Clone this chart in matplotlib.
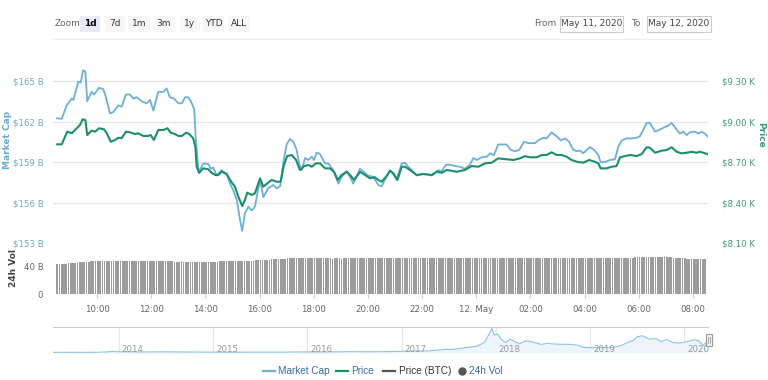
import matplotlib
matplotlib.use("Agg")
import matplotlib.pyplot as plt
from matplotlib.patches import Rectangle
from matplotlib.lines import Line2D
from matplotlib import font_manager

# ---------------- data ----------------
# hours after 00:00 on 11 May 2020 (24 = 00:00 on 12 May)
mc_time = [8.53, 8.70, 8.88, 9.07, 9.13, 9.31, 9.40, 9.49, 9.57, 9.64, 9.80, 9.89, 10.08, 10.23,
           10.33, 10.48, 10.60, 10.79, 10.91, 11.07, 11.22, 11.34, 11.47, 11.65, 11.83, 11.96,
           12.08, 12.26, 12.45, 12.57, 12.69, 12.84, 13.00, 13.13, 13.25, 13.37, 13.50, 13.59,
           13.65, 13.74, 13.80, 13.92, 14.11, 14.20, 14.29, 14.42, 14.60, 14.79, 14.91, 15.03,
           15.16, 15.28, 15.36, 15.46, 15.59, 15.71, 15.83, 16.02, 16.14, 16.32, 16.51, 16.63,
           16.76, 16.88, 17.00, 17.12, 17.25, 17.37, 17.47, 17.56, 17.68, 17.80, 17.93, 18.01,
           18.11, 18.23, 18.42, 18.54, 18.72, 18.91, 19.03, 19.22, 19.34, 19.46, 19.71, 19.83,
           20.01, 20.20, 20.38, 20.51, 20.63, 20.82, 20.94, 21.06, 21.25, 21.37, 21.49, 21.62,
           21.80, 21.99, 22.17, 22.36, 22.48, 22.60, 22.72, 22.88, 23.03, 23.22, 23.40, 23.58,
           23.77, 23.89, 24.02, 24.20, 24.39, 24.51, 24.65, 24.81, 25.00, 25.12, 25.27, 25.43,
           25.59, 25.76, 25.92, 26.05, 26.17, 26.29, 26.47, 26.60, 26.78, 26.97, 27.12, 27.28,
           27.43, 27.58, 27.71, 27.83, 27.95, 28.08, 28.20, 28.35, 28.51, 28.59, 28.75, 28.94,
           29.12, 29.24, 29.37, 29.55, 29.74, 29.92, 30.04, 30.17, 30.29, 30.41, 30.60, 30.78,
           30.97, 31.09, 31.21, 31.40, 31.52, 31.64, 31.77, 31.89, 32.08, 32.20, 32.32, 32.44,
           32.54]
market_cap = [162.24, 162.2, 163.2, 163.7, 163.6, 164.95, 164.9, 165.8, 165.7, 163.5, 164.2, 164.0,
              164.5, 164.4, 163.8, 162.6, 162.7, 163.2, 163.1, 164.0, 164.0, 163.7, 163.8, 163.5,
              163.35, 163.6, 162.8, 164.2, 164.2, 164.45, 163.8, 163.7, 163.35, 163.35, 163.8,
              163.8, 163.35, 162.9, 160.6, 158.5, 158.4, 158.9, 158.85, 158.5, 158.6, 158.0, 158.4,
              158.1, 157.4, 156.9, 156.2, 154.7, 153.9, 155.2, 155.7, 155.4, 155.7, 157.7, 156.4,
              157.05, 157.3, 157.05, 157.2, 159.0, 160.3, 160.7, 160.5, 159.9, 158.8, 158.4, 159.3,
              159.15, 159.4, 159.15, 159.7, 159.6, 158.9, 158.9, 158.4, 157.4, 157.9, 158.3, 157.9,
              157.4, 158.5, 158.3, 158.0, 157.9, 157.3, 157.2, 157.7, 158.35, 158.1, 157.7, 158.9,
              158.95, 158.65, 158.4, 158.0, 158.1, 158.1, 158.0, 158.2, 158.4, 158.3, 158.8, 158.8,
              158.7, 158.65, 158.5, 158.8, 159.3, 159.15, 159.35, 159.4, 159.65, 159.5, 160.3,
              160.3, 160.3, 159.9, 159.8, 159.9, 160.5, 160.4, 160.4, 160.4, 160.6, 160.8, 160.75,
              161.2, 160.9, 160.6, 160.75, 160.5, 159.9, 159.8, 159.85, 159.65, 159.9, 160.1,
              159.9, 159.5, 159.0, 159.0, 159.15, 159.2, 160.1, 160.6, 160.75, 160.75, 160.8,
              160.9, 161.4, 161.9, 161.9, 161.25, 161.4, 161.6, 161.7, 161.9, 161.4, 161.1,
              161.25, 161.0, 161.2, 161.25, 161.1, 161.25, 161.1, 160.9]

price_time = [8.53, 8.70, 8.90, 9.07, 9.25, 9.37, 9.47, 9.57, 9.64, 9.80, 9.93, 10.08, 10.26,
              10.36, 10.51, 10.66, 10.79, 10.91, 11.07, 11.22, 11.40, 11.52, 11.71, 11.89, 11.98,
              12.10, 12.26, 12.45, 12.60, 12.72, 12.88, 13.00, 13.13, 13.29, 13.41, 13.55, 13.63,
              13.68, 13.77, 13.92, 14.11, 14.23, 14.36, 14.48, 14.60, 14.79, 14.91, 15.09, 15.22,
              15.36, 15.46, 15.55, 15.71, 15.83, 16.02, 16.14, 16.32, 16.45, 16.63, 16.78, 16.90,
              17.02, 17.19, 17.35, 17.49, 17.65, 17.80, 17.93, 18.08, 18.23, 18.42, 18.60, 18.75,
              18.89, 19.03, 19.22, 19.34, 19.49, 19.71, 19.89, 20.08, 20.26, 20.38, 20.51, 20.67,
              20.82, 20.94, 21.09, 21.25, 21.37, 21.55, 21.80, 22.04, 22.36, 22.54, 22.72, 22.91,
              23.28, 23.58, 23.83, 24.08, 24.32, 24.57, 24.81, 25.12, 25.37, 25.61, 25.80, 25.98,
              26.23, 26.42, 26.60, 26.78, 26.97, 27.15, 27.34, 27.52, 27.71, 27.95, 28.17, 28.38,
              28.51, 28.59, 28.81, 29.00, 29.18, 29.31, 29.49, 29.68, 29.92, 30.11, 30.29, 30.41,
              30.60, 30.85, 31.03, 31.21, 31.40, 31.58, 31.77, 31.95, 32.13, 32.26, 32.38, 32.54]
price_k = [8.831, 8.831, 8.925, 8.913, 8.95, 8.974, 9.016, 9.011, 8.90, 8.932, 8.925, 8.95, 8.942,
           8.913, 8.85, 8.863, 8.88, 8.876, 8.925, 8.92, 8.907, 8.913, 8.893, 8.893, 8.90, 8.863,
           8.937, 8.937, 8.95, 8.917, 8.907, 8.893, 8.893, 8.917, 8.907, 8.876, 8.813, 8.665, 8.62,
           8.653, 8.646, 8.62, 8.604, 8.604, 8.628, 8.611, 8.567, 8.517, 8.443, 8.374, 8.419, 8.473,
           8.456, 8.468, 8.579, 8.517, 8.547, 8.567, 8.554, 8.554, 8.678, 8.744, 8.752, 8.715,
           8.641, 8.67, 8.678, 8.665, 8.69, 8.69, 8.653, 8.653, 8.628, 8.567, 8.604, 8.628, 8.604,
           8.567, 8.628, 8.604, 8.579, 8.587, 8.567, 8.554, 8.591, 8.636, 8.616, 8.567, 8.665,
           8.665, 8.641, 8.604, 8.611, 8.604, 8.628, 8.62, 8.641, 8.628, 8.641, 8.67, 8.665, 8.69,
           8.695, 8.727, 8.72, 8.715, 8.727, 8.744, 8.735, 8.735, 8.752, 8.752, 8.772, 8.752,
           8.752, 8.739, 8.715, 8.702, 8.695, 8.715, 8.702, 8.69, 8.653, 8.653, 8.665, 8.67,
           8.735, 8.744, 8.752, 8.744, 8.759, 8.809, 8.806, 8.769, 8.784, 8.789, 8.809, 8.776,
           8.764, 8.769, 8.776, 8.769, 8.776, 8.769, 8.759]

# 24h volume (billion USD), one bar every 5 minutes starting 08:30
vol_start_hour = 8.5
volume_b = [
    44.0, 44.2, 44.5, 44.8, 45.0, 45.3, 45.6, 46.0, 46.3, 46.6, 47.0, 47.3,
    47.5, 47.8, 48.0, 48.2, 48.4, 48.6, 48.8, 48.9, 48.9, 48.9, 49.0, 48.9,
    48.9, 49.0, 48.9, 48.8, 48.9, 49.0, 48.9, 48.9, 49.0, 48.8, 48.9, 48.9,
    48.9, 48.8, 48.9, 49.0, 48.9, 48.8, 48.9, 48.8, 48.7, 48.9, 48.8, 48.6,
    48.5, 48.4, 48.3, 48.2, 48.0, 47.9, 48.0, 48.2, 48.0, 47.9, 47.8, 47.9,
    47.9, 47.8, 47.9, 47.8, 47.7, 47.8, 47.6, 47.5, 47.4, 47.6, 47.8, 48.0,
    48.2, 48.3, 48.4, 48.3, 48.4, 48.5, 48.6, 48.5, 48.7, 48.8, 48.9, 49.0,
    49.1, 49.2, 49.3, 49.4, 49.6, 49.8, 50.0, 50.2, 50.4, 50.7, 51.0, 51.2,
    51.4, 51.6, 51.8, 52.0, 52.2, 52.5, 52.8, 53.0, 52.9, 53.0, 52.8, 52.9,
    52.8, 52.7, 52.6, 52.7, 52.8, 52.6, 52.7, 52.8, 52.7, 52.6, 52.7, 52.8,
    52.7, 52.6, 52.5, 52.6, 52.7, 52.6, 52.5, 52.6, 52.8, 52.7, 52.6, 52.7,
    52.8, 52.7, 52.8, 52.9, 52.8, 52.7, 52.6, 52.7, 52.8, 52.9, 52.8, 52.7,
    52.6, 52.7, 52.8, 52.7, 52.6, 52.7, 52.8, 52.9, 52.8, 52.7, 52.8, 52.9,
    52.8, 52.9, 53.0, 52.9, 52.8, 52.9, 53.0, 53.1, 53.0, 52.9, 53.0, 52.9,
    52.8, 52.9, 53.0, 52.9, 52.8, 52.9, 53.0, 52.9, 52.8, 52.9, 53.0, 53.1,
    53.0, 52.9, 53.0, 53.1, 53.0, 52.9, 53.0, 53.1, 53.0, 52.9, 53.0, 53.1,
    53.0, 52.9, 53.0, 53.1, 53.0, 52.9, 53.0, 53.1, 53.2, 53.1, 53.0, 52.9,
    53.0, 53.1, 53.2, 53.1, 53.0, 53.1, 53.3, 53.5, 53.4, 53.3, 53.2, 53.3,
    53.4, 53.6, 53.8, 53.7, 53.5, 53.4, 53.3, 53.2, 53.3, 53.4, 53.3, 53.2,
    53.3, 53.2, 53.1, 53.2, 53.3, 53.2, 53.1, 53.2, 53.3, 53.2, 53.3, 53.4,
    53.3, 53.2, 53.3, 53.4, 53.3, 53.2, 53.3, 53.4, 53.3, 53.2, 53.3, 53.4,
    53.5, 53.6, 53.8, 54.0, 54.3, 54.6, 54.8, 55.0, 55.2, 55.3, 55.2, 55.3,
    55.4, 55.3, 55.2, 55.3, 55.1, 55.0, 54.8, 54.5, 54.2, 54.0, 53.6, 53.3,
    53.0, 52.8, 52.6, 52.4, 52.2, 52.0, 51.9, 51.8, 51.9, 51.8, 51.7, 51.8,
]
vol_time = [vol_start_hour + i / 12 for i in range(len(volume_b))]

# navigator: market cap history (fractional year, $B)
nav_year = [2013.30, 2013.50, 2013.75, 2013.88, 2013.93, 2014.0, 2014.1, 2014.25, 2014.45, 2014.6,
            2014.8, 2015.0, 2015.1, 2015.3, 2015.5, 2015.7, 2015.85, 2016.0, 2016.2, 2016.45,
            2016.55, 2016.8, 2017.0, 2017.15, 2017.3, 2017.45, 2017.55, 2017.7, 2017.8, 2017.88,
            2017.93, 2017.96, 2017.98, 2018.02, 2018.05, 2018.1, 2018.15, 2018.2, 2018.25, 2018.32,
            2018.4, 2018.48, 2018.55, 2018.62, 2018.7, 2018.8, 2018.87, 2018.92, 2019.0, 2019.15,
            2019.25, 2019.33, 2019.4, 2019.45, 2019.5, 2019.55, 2019.62, 2019.7, 2019.75, 2019.82,
            2019.88, 2019.95, 2020.02, 2020.1, 2020.15, 2020.2, 2020.23]
nav_mc = [1.3, 1.0, 1.6, 8.0, 13.0, 9.0, 8.5, 6.0, 8.0, 7.0, 5.0, 3.8, 3.2, 3.3, 3.9, 3.6, 5.6,
          6.5, 6.4, 10.5, 9.5, 10.0, 15.0, 18.0, 22.0, 40.0, 42.0, 70.0, 85.0, 140.0, 260.0,
          325.0, 240.0, 250.0, 190.0, 135.0, 180.0, 150.0, 120.0, 160.0, 140.0, 110.0, 125.0,
          115.0, 112.0, 110.0, 100.0, 70.0, 66.0, 68.0, 72.0, 95.0, 140.0, 160.0, 215.0, 230.0,
          185.0, 190.0, 150.0, 175.0, 135.0, 130.0, 145.0, 175.0, 160.0, 95.0, 140.0]
nav_years = [2014, 2015, 2016, 2017, 2018, 2019, 2020]

mc_ticks = [153, 156, 159, 162, 165]
price_ticks = [8.10, 8.40, 8.70, 9.00, 9.30]
hour_ticks = [10, 12, 14, 16, 18, 20, 22, 24, 26, 28, 30, 32]
hour_labels = ["10:00", "12:00", "14:00", "16:00", "18:00", "20:00", "22:00", "12. May",
               "02:00", "04:00", "06:00", "08:00"]
zoom_buttons = ["1d", "7d", "1m", "3m", "1y", "YTD", "ALL"]
legend_items = ["Market Cap", "Price", "Price (BTC)", "24h Vol"]

# ---------------- style ----------------
BLUE = "#6cb0d8"
GREEN = "#1b8f6c"
BLUE_TXT = "#6aa9d1"
GREEN_TXT = "#3d9a78"
GRID = "#e6e6e6"
GRAY_TXT = "#666666"

avail = {f.name for f in font_manager.fontManager.ttflist}
NARROW = "Liberation Sans Narrow" if "Liberation Sans Narrow" in avail else "Liberation Sans"
plt.rcParams["font.family"] = ["DejaVu Sans"]

W, H = 768, 380
fig = plt.figure(figsize=(W / 100, H / 100), dpi=100)


def rect(x0, y0, x1, y1):
    return [x0 / W, 1 - y1 / H, (x1 - x0) / W, (y1 - y0) / H]


def fx(x):
    return x / W


def fy(y):
    return 1 - y / H


XL = (8.376, 32.555)

# ---------------- main panel ----------------
ax = fig.add_axes(rect(53, 62, 708, 243))
ax.set_xlim(*XL)
ax.set_ylim(153, 166.41)
for t in mc_ticks:
    ax.axhline(t, color=GRID, lw=0.9, zorder=0)
ax.plot(mc_time, market_cap, color=BLUE, lw=1.3, zorder=3)
ax.set_yticks(mc_ticks)
ax.set_yticklabels([f"${t} B" for t in mc_ticks])
ax.tick_params(axis="y", length=0, pad=7, labelsize=6.2, labelcolor=BLUE_TXT)
ax.set_xticks([])
for s in ax.spines.values():
    s.set_visible(False)
ax.patch.set_alpha(0)

ax2 = ax.twinx()
ax2.set_ylim(8.10, 9.441)
ax2.plot(price_time, price_k, color=GREEN, lw=1.5, zorder=4)
ax2.set_yticks(price_ticks)
ax2.set_yticklabels([f"${t:.2f} K" for t in price_ticks])
ax2.tick_params(axis="y", length=0, pad=10, labelsize=6.2, labelcolor=GREEN_TXT)
for s in ax2.spines.values():
    s.set_visible(False)

fig.text(fx(8), fy(140), "Market Cap", rotation=90, color=BLUE_TXT, fontsize=6.5,
         fontweight="bold", ha="center", va="center")
fig.text(fx(761), fy(135), "Price", rotation=270, color=GREEN_TXT, fontsize=6.5,
         fontweight="bold", ha="center", va="center")

# ---------------- volume panel ----------------
axv = fig.add_axes(rect(53, 243, 708, 294))
axv.set_xlim(*XL)
axv.set_ylim(0, 75.5)
axv.bar(vol_time, volume_b, width=0.062, align="edge", color="#9c9c9c", lw=0)
axv.set_yticks([0, 40])
axv.set_yticklabels(["0", "40 B"])
axv.tick_params(axis="y", length=0, pad=7, labelsize=6.2, labelcolor=GRAY_TXT)
axv.set_xticks(hour_ticks)
axv.set_xticklabels(hour_labels)
axv.tick_params(axis="x", length=3, color="#cccccc", pad=5, labelsize=6.2, labelcolor=GRAY_TXT)
for s in axv.spines.values():
    s.set_visible(False)
fig.text(fx(13), fy(268), "24h Vol", rotation=90, color="#444444", fontsize=6.5,
         fontweight="bold", ha="center", va="center")

# ---------------- navigator ----------------
axn = fig.add_axes(rect(53, 327, 708, 353))
axn.set_xlim(2013.30, 2020.25)
axn.set_ylim(-8, 350)
axn.fill_between(nav_year, nav_mc, -8, color="#edf5fb", lw=0)
axn.plot(nav_year, nav_mc, color="#8cc3e2", lw=0.8)
for yr in nav_years:
    axn.axvline(yr, color="#e6e6e6", lw=0.8, zorder=0)
    axn.text(yr + 0.03, 45, str(yr), fontsize=6.2, color="#999999", ha="left", va="center")
axn.set_xticks([])
axn.set_yticks([])
for k, s in axn.spines.items():
    s.set_visible(k == "top")
axn.spines["top"].set_color("#cccccc")
axn.spines["top"].set_linewidth(0.8)
fig.add_artist(Rectangle((fx(706), fy(346)), 6 / W, 12 / H, transform=fig.transFigure,
                         facecolor="#f2f2f2", edgecolor="#999999", lw=0.8))
for xx in (708.3, 709.7):
    fig.add_artist(Line2D([fx(xx), fx(xx)], [fy(343), fy(337)], transform=fig.transFigure,
                          color="#999999", lw=0.6))

# ---------------- header ----------------
fig.add_artist(Line2D([fx(53), fx(710)], [fy(39), fy(39)], transform=fig.transFigure,
                      color="#eeeeee", lw=0.9))
fig.text(fx(55), fy(24), "Zoom", fontsize=6.5, color=GRAY_TXT, ha="left", va="center")
btn_x = [(80, 100), (105, 125), (128, 150), (153, 175), (180, 200), (203, 224), (228, 250)]
for lab, (x0, x1) in zip(zoom_buttons, btn_x):
    active = lab == "1d"
    fig.add_artist(Rectangle((fx(x0), fy(32)), (x1 - x0) / W, 16 / H, transform=fig.transFigure,
                             facecolor="#e6ebf5" if active else "#f7f7f7", edgecolor="none"))
    fig.text(fx((x0 + x1) / 2), fy(24), lab, fontsize=6.5, ha="center", va="center",
             color="#000000" if active else "#333333", fontweight="bold" if active else "normal")

fig.text(fx(545), fy(24), "From", fontsize=6.5, color=GRAY_TXT, ha="center", va="center")
fig.text(fx(636), fy(24), "To", fontsize=6.5, color=GRAY_TXT, ha="center", va="center")
for (x0, x1), lab in zip([(560, 623), (647, 711)], ["May 11, 2020", "May 12, 2020"]):
    fig.add_artist(Rectangle((fx(x0), fy(32)), (x1 - x0) / W, 16 / H, transform=fig.transFigure,
                             facecolor="white", edgecolor="#cccccc", lw=0.8))
    fig.text(fx((x0 + x1) / 2), fy(24), lab, fontsize=6.5, color="#444444", ha="center",
             va="center")

# ---------------- legend ----------------
LY = fy(371)
leg_sym_x = [263, 336, 383, 460]
leg_txt_x = [278, 351, 399, 469]
leg_col = [BLUE, GREEN, "#555555", "#555555"]
leg_txt_col = ["#3e6a9a", "#3e6a9a", "#333333", "#3e6a9a"]
for i, lab in enumerate(legend_items):
    x0 = leg_sym_x[i]
    if lab == "24h Vol":
        fig.add_artist(Line2D([fx(x0 + 2)], [LY], transform=fig.transFigure, marker="o",
                              markersize=5, color="#555555", lw=0))
    else:
        fig.add_artist(Line2D([fx(x0), fx(x0 + 12)], [LY, LY], transform=fig.transFigure,
                              color=leg_col[i], lw=1.6))
    fig.text(fx(leg_txt_x[i]), LY, lab, fontsize=7.2, color=leg_txt_col[i], ha="left",
             va="center", family=[NARROW, "DejaVu Sans"])

fig.savefig("out.png", dpi=100, facecolor="white")
